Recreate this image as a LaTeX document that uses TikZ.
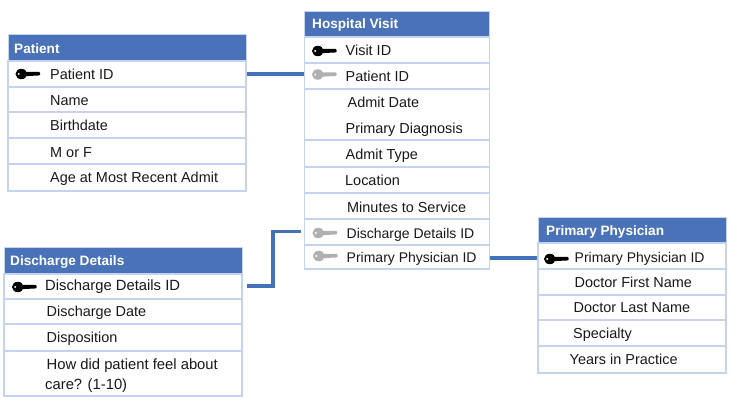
\documentclass[tikz,border=0pt]{standalone}
\usepackage{fontspec}
\setmainfont{Liberation Sans}
\usetikzlibrary{fit}
\definecolor{headblue}{HTML}{4A72B8}
\definecolor{gridblue}{HTML}{C3D3F0}
\definecolor{linkblue}{HTML}{4472B8}
\definecolor{fkgrey}{HTML}{B0B0B0}
\tikzset{
  x=1pt,y=-1pt,
  headcell/.style={fill=headblue,draw=gridblue,line width=0.8pt,inner sep=0pt},
  rowcell/.style={draw=gridblue,line width=1.4pt,fill=white,inner sep=0pt},
  headtext/.style={anchor=base west,inner sep=0pt,yshift=-0.5pt,text=white,font=\fontsize{13.6}{16}\selectfont\bfseries},
  celltext/.style={anchor=base west,inner sep=0pt,yshift=-0.8pt,text=black!90,font=\fontsize{14.45}{17}\selectfont},
  narrowtext/.style={celltext,font=\fontsize{14.0}{17}\selectfont},
  widetext/.style={celltext,font=\fontsize{14.8}{17}\selectfont},
  link/.style={draw=linkblue,line width=3.8pt},
  pics/tablekey/.style={code={
    \fill[#1,even odd rule] (5.8,0) ellipse (5.8 and 5.2) (3.2,0) circle (1.3);
    \fill[#1,rounded corners=0.8pt] (9,-2) -- (24.5,-2) -- (24.5,1.4) -- (9,2.2) -- cycle;
  }}
}
% one box spanning (x1,y1)-(x2,y2): name, style, x1, y1, x2, y2
\newcommand{\tablecell}[6]{\node[#2,fit={(#3,#4)(#5,#6)}] (#1) {};}
\begin{document}
\begin{tikzpicture}
\useasboundingbox (0,0) rectangle (732,409);

% Patient table
\tablecell{patHead}{headcell}{8}{34}{246}{61}
\tablecell{patId}{rowcell}{8}{61}{246}{87}
\tablecell{patName}{rowcell}{8}{87}{246}{112}
\tablecell{patBirth}{rowcell}{8}{112}{246}{138}
\tablecell{patSex}{rowcell}{8}{138}{246}{164}
\tablecell{patAge}{rowcell}{8}{164}{246}{191}
\node[headtext] (tPatHead) at (14,53) {Patient};
\node[celltext] (tPatId) at (50,79) {Patient ID};
\node[celltext] (tPatName) at (50,105) {Name};
\node[celltext] (tPatBirth) at (50,130) {Birthdate};
\node[celltext] (tPatSex) at (50,157) {M or F};
\node[celltext] (tPatAge) at (50,182) {Age at Most Recent Admit};
\pic at (15.5,74) {tablekey=black};

% Discharge Details table
\tablecell{disHead}{headcell}{4}{247}{242}{274}
\tablecell{disId}{rowcell}{4}{274}{242}{299}
\tablecell{disDate}{rowcell}{4}{299}{242}{324}
\tablecell{disPos}{rowcell}{4}{324}{242}{351}
\tablecell{disCare}{rowcell}{4}{351}{242}{396}
\node[headtext] (tDisHead) at (10,265) {Discharge Details};
\node[widetext] (tDisId) at (45,290) {Discharge Details ID};
\node[celltext] (tDisDate) at (46.5,316) {Discharge Date};
\node[celltext] (tDisPos) at (46.5,342) {Disposition};
\node[widetext] (tDisCareA) at (46.5,369) {How did patient feel about};
\node[widetext] (tDisCareB) at (45,389) {care? (1-10)};
\pic at (12,287) {tablekey=black};

% Hospital Visit table
\tablecell{visHead}{headcell}{304.5}{11}{489.5}{37}
\tablecell{visId}{rowcell}{304.5}{37}{489.5}{63}
\tablecell{visPat}{rowcell}{304.5}{63}{489.5}{89}
\tablecell{visAdmit}{rowcell}{304.5}{89}{489.5}{140}
\tablecell{visType}{rowcell}{304.5}{140}{489.5}{167}
\tablecell{visLoc}{rowcell}{304.5}{167}{489.5}{193}
\tablecell{visMin}{rowcell}{304.5}{193}{489.5}{219}
\tablecell{visDis}{rowcell}{304.5}{219}{489.5}{245}
\tablecell{visPhy}{rowcell}{304.5}{245}{489.5}{269}
\node[headtext] (tVisHead) at (312,28) {Hospital Visit};
\node[celltext] (tVisId) at (345.5,55) {Visit ID};
\node[celltext] (tVisPat) at (345.5,81) {Patient ID};
\node[celltext] (tVisDate) at (347.5,107) {Admit Date};
\node[celltext] (tVisDiag) at (345.5,133) {Primary Diagnosis};
\node[celltext] (tVisType) at (345.5,159) {Admit Type};
\node[celltext] (tVisLoc) at (345,185) {Location};
\node[celltext] (tVisMin) at (347,212) {Minutes to Service};
\node[narrowtext] (tVisDis) at (346.5,238) {Discharge Details ID};
\node[narrowtext] (tVisPhy) at (346.5,262) {Primary Physician ID};
\pic at (312,51) {tablekey=black};
\pic at (312,74.5) {tablekey=fkgrey};
\pic at (312.5,233) {tablekey=fkgrey};
\pic at (313,256) {tablekey=fkgrey};

% Primary Physician table
\tablecell{phyHead}{headcell}{538}{217}{726}{243}
\tablecell{phyId}{rowcell}{538}{243}{726}{269}
\tablecell{phyFirst}{rowcell}{538}{269}{726}{295}
\tablecell{phyLast}{rowcell}{538}{295}{726}{320}
\tablecell{phySpec}{rowcell}{538}{320}{726}{346}
\tablecell{phyYears}{rowcell}{538}{346}{726}{373}
\node[headtext] (tPhyHead) at (546,235) {Primary Physician};
\node[narrowtext] (tPhyId) at (574.5,262) {Primary Physician ID};
\node[celltext] (tPhyFirst) at (574.5,287) {Doctor First Name};
\node[celltext] (tPhyLast) at (573.5,312) {Doctor Last Name};
\node[celltext] (tPhySpec) at (573,338) {Specialty};
\node[celltext] (tPhyYears) at (569.5,364) {Years in Practice};
\pic at (544,259) {tablekey=black};

% Relationships between the tables
\draw[link] (patId.east) -- (patId.east -| visPat.west);
\draw[link,shorten <=4pt,shorten >=2.5pt]
  ([yshift=0.5pt]disId.east) -- ([xshift=30pt,yshift=0.5pt]disId.east) |- ([yshift=0.5pt]visDis.west);
\draw[link,line width=3.4pt] ([yshift=-1pt]visPhy.east) -- ([yshift=-1pt]visPhy.east -| phyId.west);
\end{tikzpicture}
\end{document}
